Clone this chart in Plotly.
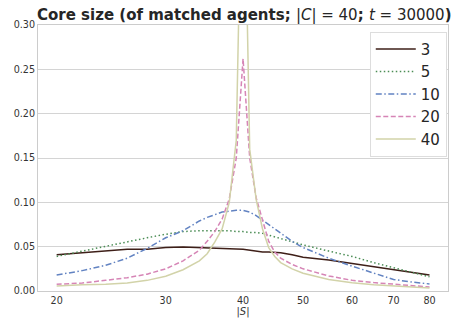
import plotly.graph_objects as go
import math

s_values = [20, 22, 24, 26, 28, 30, 32, 34, 35, 36, 37, 38, 39, 40, 41, 42, 43, 44, 45, 46, 48, 50, 55, 60, 65, 70, 75, 80]

core_3 = [0.041, 0.043, 0.045, 0.047, 0.047, 0.049, 0.0495, 0.049, 0.049, 0.049, 0.0485, 0.048, 0.0475, 0.047,
          0.046, 0.045, 0.044, 0.044, 0.0435, 0.043, 0.041, 0.038, 0.035, 0.031, 0.027, 0.024, 0.021, 0.018]
core_5 = [0.039, 0.045, 0.051, 0.056, 0.060, 0.064, 0.067, 0.068, 0.068, 0.068, 0.068, 0.068, 0.067, 0.067,
          0.066, 0.066, 0.065, 0.063, 0.061, 0.059, 0.055, 0.052, 0.045, 0.039, 0.032, 0.026, 0.021, 0.016]
core_10 = [0.018, 0.023, 0.029, 0.037, 0.048, 0.060, 0.068, 0.079, 0.083, 0.086, 0.089, 0.090, 0.091, 0.091,
           0.089, 0.085, 0.080, 0.075, 0.070, 0.065, 0.056, 0.049, 0.037, 0.028, 0.020, 0.013, 0.010, 0.008]
core_20 = [0.0076, 0.009, 0.012, 0.015, 0.019, 0.025, 0.034, 0.046, 0.056, 0.067, 0.081, 0.104, 0.15, 0.262,
           0.15, 0.105, 0.080, 0.056, 0.044, 0.037, 0.030, 0.025, 0.017, 0.012, 0.0095, 0.0076, 0.006, 0.0045]
core_40 = [0.0055, 0.007, 0.0075, 0.009, 0.012, 0.0166, 0.024, 0.034, 0.042, 0.055, 0.070, 0.100, 0.17, 0.56,
           0.16, 0.103, 0.070, 0.049, 0.039, 0.032, 0.025, 0.020, 0.013, 0.0093, 0.007, 0.0057, 0.0045, 0.0035]

series_names = ["3", "5", "10", "20", "40"]
series_values = [core_3, core_5, core_10, core_20, core_40]
colors = ["#3e1f18", "#4b8d55", "#6283c2", "#d685b6", "#d2d3a9"]
dashes = ["solid", "1.5px,2.5px", "6px,2.5px,1.5px,2.5px", "5px,2.5px", "solid"]

x_ticks = [20, 30, 40, 50, 60, 70, 80]
y_ticks = [0.00, 0.05, 0.10, 0.15, 0.20, 0.25, 0.30]

fig = go.Figure()
for name, vals, c, d in zip(series_names, series_values, colors, dashes):
    fig.add_trace(go.Scatter(x=s_values, y=vals, mode="lines", name=name,
                             line=dict(color=c, width=1.5, dash=d)))

fig.update_layout(
    width=454, height=321, autosize=False,
    margin=dict(l=38, r=6, t=25, b=30),
    paper_bgcolor="white", plot_bgcolor="white",
    font=dict(family="DejaVu Sans", color="#262626"),
    title=dict(
        text="<b>Core size (of matched agents; </b>|<i>C</i>| = 40<b>; </b><i>t</i> = 30000<b>)</b>",
        x=0.538, xanchor="center", y=0.955, yanchor="middle",
        font=dict(size=15, family="DejaVu Sans", color="#262626")),
    legend=dict(x=0.997, xanchor="right", y=0.975, yanchor="top",
                bgcolor="white", bordercolor="#dddddd", borderwidth=1,
                font=dict(size=15, color="#262626"), tracegroupgap=0, itemwidth=40),
    showlegend=True,
)
fig.update_xaxes(type="log", range=[math.log10(18.66), math.log10(85.7)],
                 tickvals=x_ticks, ticktext=[str(v) for v in x_ticks],
                 showgrid=False, showline=True, linecolor="#cccccc", linewidth=1, mirror=True,
                 ticks="", tickfont=dict(size=9.6, color="#333333"),
                 title=dict(text="|<i>S</i>|", font=dict(size=10, color="#333333"), standoff=2),
                 zeroline=False)
fig.update_yaxes(range=[0, 0.30], tickvals=y_ticks, ticktext=[f"{v:.2f}" for v in y_ticks],
                 showgrid=True, gridcolor="#d4d4d4", gridwidth=1,
                 showline=True, linecolor="#cccccc", linewidth=1, mirror=True,
                 ticks="", tickfont=dict(size=9.6, color="#333333"), zeroline=False)

fig.write_html("out.html", config={"displayModeBar": False},
               post_script="document.body.style.margin='0';document.body.style.overflow='hidden';")
